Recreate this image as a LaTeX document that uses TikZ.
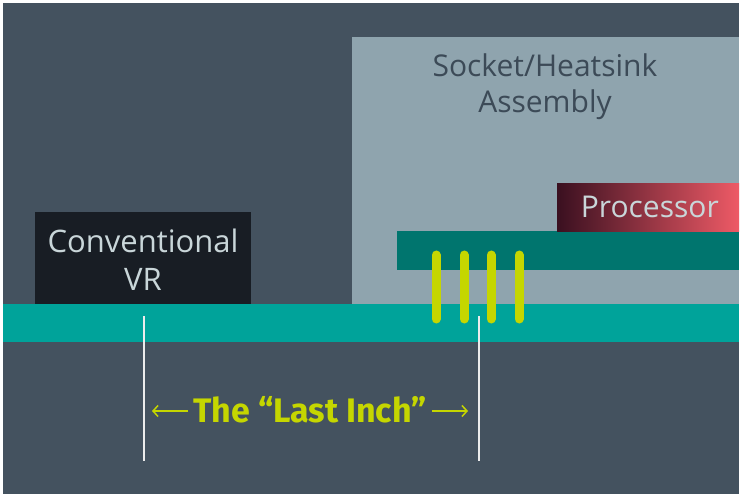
\documentclass[tikz,border=0pt]{standalone}
\usepackage{fontspec}
\setmainfont{Open Sans}
\newfontfamily\boldface{Fira Sans}
\usepackage{tikz}
\usetikzlibrary{positioning,arrows.meta}
\definecolor{bgdark}{HTML}{44525F}
\definecolor{socketgray}{HTML}{8FA4AE}
\definecolor{boardteal}{HTML}{00A39A}
\definecolor{subteal}{HTML}{00756E}
\definecolor{vrblack}{HTML}{181D24}
\definecolor{pinlime}{HTML}{C5D600}
\definecolor{cpudark}{HTML}{3A1020}
\definecolor{cpured}{HTML}{EE5A66}
\definecolor{lighttext}{HTML}{C9D6D9}
\definecolor{darktext}{HTML}{3C4A57}
\tikzset{
  block/.style={draw=none, rectangle, inner sep=0pt, anchor=north west},
  bigtext/.style={align=center, inner sep=0pt, font=\fontsize{30}{36}\selectfont},
  pin/.style={draw=pinlime, line width=9pt, line cap=round},
  marker/.style={draw=white!85!gray, line width=1.2pt},
  inch/.style={draw=pinlime, line width=1.5pt, -{Straight Barb[length=5pt, width=11pt, line width=1.5pt]}}
}
\begin{document}
\begin{tikzpicture}[x=1pt, y=-1pt]
  \useasboundingbox (0,0) rectangle (742,497);
  \fill[white] (0,0) rectangle (742,497);
  \node[block, fill=bgdark, minimum width=736pt, minimum height=491pt] (bg) at (3,3) {};

  % socket and board
  \node[block, fill=socketgray, minimum width=387pt, minimum height=267pt] (socket) at (352,37) {};
  \node[block, fill=boardteal, minimum width=736pt, minimum height=38pt] (board) at (3,304) {};
  \node[block, fill=vrblack, minimum width=216pt, minimum height=92pt] (vr) at (35,212) {};
  \node[block, fill=subteal, minimum width=342pt, minimum height=39pt] (substrate) at (397,231) {};
  \node[block, left color=cpudark, right color=cpured, minimum width=182pt, minimum height=48pt] (cpu) at (557,183) {};

  % labels
  \node[bigtext, text=darktext] (socketlbl) at (545,87) {Socket/Heatsink\\Assembly};
  \node[bigtext, text=lighttext, font=\fontsize{31}{38}\selectfont] (vrlbl) at (143,260) {Conventional\\VR};
  \node[bigtext, text=lighttext, anchor=east] (cpulbl) at (719,207) {Processor};

  % pins
  \foreach \px in {436,464,491,519}
    \draw[pin] (\px,255) -- (\px,319);

  % last inch markers
  \coordinate (mstartA) at (144,316);
  \coordinate (mendA) at (144,461);
  \coordinate (mstartB) at (479,316);
  \coordinate (mendB) at (479,461);
  \draw[marker] (mstartA) -- (mendA);
  \draw[marker] (mstartB) -- (mendB);
  \node[text=pinlime, inner sep=0pt, font=\boldface\bfseries\fontsize{34}{40}\selectfont] (lastinch) at (310,410) {The “Last Inch”};
  \coordinate (tipA) at (152,411);
  \coordinate (tipB) at (468,411);
  \draw[inch] ([xshift=-5pt]lastinch.west |- tipA) -- (tipA);
  \draw[inch] ([xshift=5pt]lastinch.east |- tipB) -- (tipB);
\end{tikzpicture}
\end{document}
